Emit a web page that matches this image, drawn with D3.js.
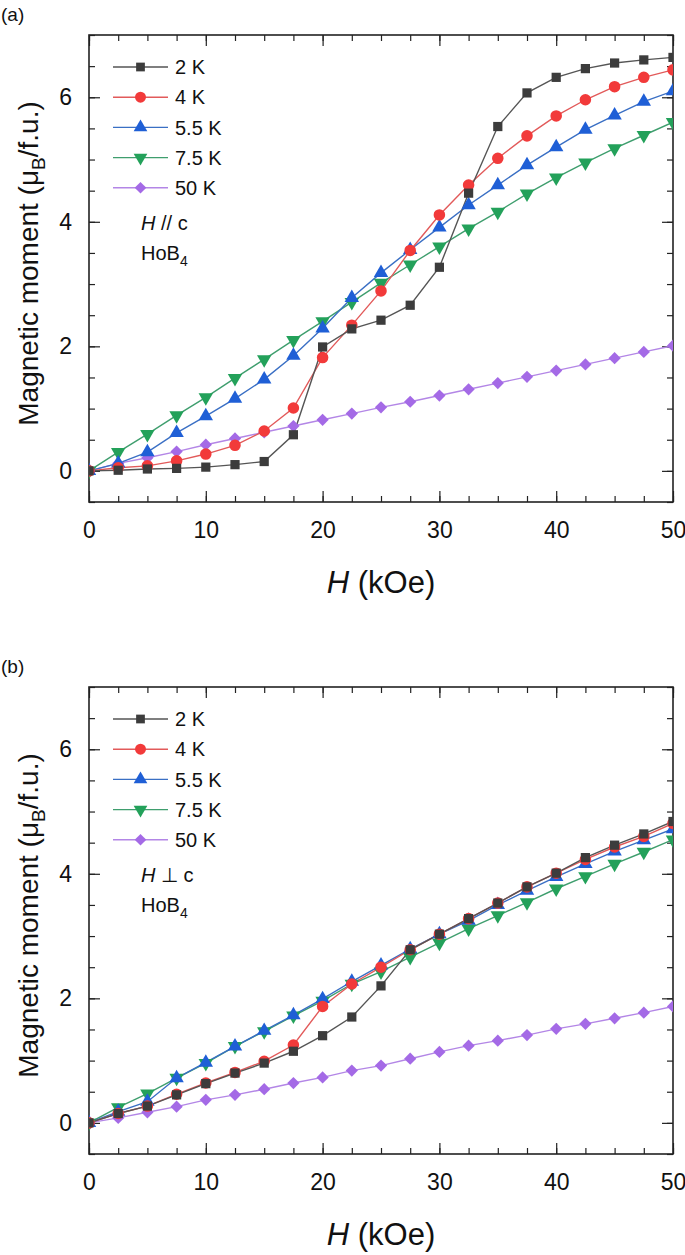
<!DOCTYPE html>
<html><head><meta charset="utf-8">
<script src="https://cdn.jsdelivr.net/npm/d3@7"></script>
<style>body{margin:0;background:#fff}svg{display:block;font-family:Arial,"Liberation Sans",sans-serif}</style>
</head><body><svg id="c" width="685" height="1255"></svg>
<script>
// ---------- data ----------
const fieldH = [0,2.5,5,7.5,10,12.5,15,17.5,20,22.5,25,27.5,30,32.5,35,37.5,40,42.5,45,47.5,50];
const seriesLabels = ["2 K","4 K","5.5 K","7.5 K","50 K"];
const xTicks = [0,10,20,30,40,50];
const yTicks = [0,2,4,6];

// panel (a) H // c
const a2K  = [0,0.01,0.03,0.04,0.06,0.10,0.15,0.58,1.99,2.28,2.42,2.66,3.27,4.46,5.53,6.07,6.32,6.46,6.55,6.60,6.64];
const a4K  = [0,0.05,0.08,0.16,0.27,0.41,0.64,1.01,1.82,2.34,2.89,3.54,4.11,4.59,5.02,5.38,5.70,5.96,6.17,6.32,6.44];
const a55K = [0,0.12,0.30,0.61,0.88,1.16,1.47,1.85,2.29,2.78,3.18,3.55,3.91,4.27,4.59,4.91,5.20,5.48,5.71,5.93,6.10];
const a75K = [0,0.30,0.59,0.89,1.18,1.49,1.79,2.10,2.40,2.71,3.02,3.31,3.60,3.89,4.16,4.45,4.71,4.95,5.18,5.39,5.60];
const a50K = [0,0.12,0.21,0.31,0.42,0.52,0.62,0.72,0.82,0.92,1.02,1.11,1.21,1.31,1.41,1.51,1.61,1.71,1.81,1.91,2.01];

// panel (b) H ⊥ c
const b2K  = [0,0.15,0.27,0.45,0.63,0.80,0.96,1.15,1.40,1.70,2.20,2.78,3.03,3.28,3.53,3.79,4.01,4.26,4.46,4.64,4.84];
const b4K  = [0,0.15,0.27,0.46,0.64,0.81,0.99,1.25,1.87,2.23,2.50,2.78,3.03,3.28,3.53,3.79,4.01,4.23,4.43,4.60,4.81];
const b55K = [0,0.18,0.34,0.72,0.97,1.23,1.48,1.73,1.99,2.27,2.53,2.79,3.03,3.25,3.50,3.73,3.95,4.16,4.36,4.54,4.72];
const b75K = [0,0.25,0.47,0.72,0.96,1.23,1.47,1.72,1.96,2.23,2.43,2.66,2.89,3.12,3.33,3.54,3.76,3.96,4.16,4.35,4.55];
const b50K = [0,0.08,0.17,0.26,0.37,0.45,0.54,0.64,0.73,0.84,0.92,1.03,1.14,1.24,1.32,1.41,1.51,1.59,1.68,1.77,1.87];

// ---------- styles ----------
const fills  = ["#3c3c3c","#f23a3a","#1f5fd6","#23a15a","#a46ae6"];
const lines  = ["#555555","#e25a5a","#3a6fc4","#3f9e6e","#b386e6"];
const shapes = [
  {t:d3.symbolSquare,  s:85, r:0},
  {t:d3.symbolCircle,  s:105, r:0},
  {t:d3.symbolTriangle,s:90, r:0},
  {t:d3.symbolTriangle,s:90, r:180},
  {t:d3.symbolSquare,  s:75, r:45}
];

const svg = d3.select("#c");

function panel(cfg){
  const L=89,R=673,T=cfg.top,B=cfg.top+467;
  const x=d3.scaleLinear().domain([0,50]).range([L,R]);
  const y=d3.scaleLinear().domain([-0.5,7]).range([B,T]);
  const g=svg.append("g");
  const minorX=d3.range(0,50.01,2.5), minorY=d3.range(-0.5,7.01,0.5);
  const axStyle=sel=>{sel.select(".domain").remove();sel.selectAll("line").attr("stroke","#222").attr("stroke-width",1.2);};
  const lab=s=>s.selectAll("text").attr("font-size",23).attr("fill","#111").attr("font-family","Arial");
  // bottom
  g.append("g").attr("transform",`translate(0,${B})`).call(d3.axisBottom(x).tickValues(minorX).tickSize(-6).tickFormat("")).call(axStyle);
  g.append("g").attr("transform",`translate(0,${B})`).call(d3.axisBottom(x).tickValues(xTicks).tickSize(-11).tickPadding(20).tickFormat(d3.format("d")))
    .call(axStyle).call(lab);
  // top
  g.append("g").attr("transform",`translate(0,${T})`).call(d3.axisTop(x).tickValues(minorX).tickSize(-6).tickFormat("")).call(axStyle);
  g.append("g").attr("transform",`translate(0,${T})`).call(d3.axisTop(x).tickValues(xTicks).tickSize(-11).tickFormat("")).call(axStyle);
  // left
  g.append("g").attr("transform",`translate(${L},0)`).call(d3.axisLeft(y).tickValues(minorY).tickSize(-6).tickFormat("")).call(axStyle);
  g.append("g").attr("transform",`translate(${L},0)`).call(d3.axisLeft(y).tickValues(yTicks).tickSize(-11).tickPadding(17).tickFormat(d3.format("d")))
    .call(axStyle).call(lab);
  // right
  g.append("g").attr("transform",`translate(${R},0)`).call(d3.axisRight(y).tickValues(minorY).tickSize(-6).tickFormat("")).call(axStyle);
  g.append("g").attr("transform",`translate(${R},0)`).call(d3.axisRight(y).tickValues(yTicks).tickSize(-11).tickFormat("")).call(axStyle);
  // frame
  g.append("rect").attr("x",L).attr("y",T).attr("width",R-L).attr("height",B-T).attr("fill","none").attr("stroke","#222").attr("stroke-width",1.6);

  // data
  const clipId="clip"+cfg.key;
  svg.append("clipPath").attr("id",clipId).append("rect").attr("x",L).attr("y",T).attr("width",R-L).attr("height",B-T);
  const dg=g.append("g").attr("clip-path",`url(#${clipId})`);
  const line=d3.line().x((d,i)=>x(fieldH[i])).y(d=>y(d));
  const order=[4,3,2,1,0];
  order.forEach(k=>{
    dg.append("path").attr("d",line(cfg.series[k])).attr("fill","none").attr("stroke",lines[k]).attr("stroke-width",1.4);
  });
  order.forEach(k=>{
    const sym=d3.symbol().type(shapes[k].t).size(shapes[k].s);
    dg.selectAll(null).data(cfg.series[k]).join("path").attr("d",sym)
      .attr("transform",(d,i)=>`translate(${x(fieldH[i])},${y(d)}) rotate(${shapes[k].r})`)
      .attr("fill",fills[k]);
  });

  // legend
  const lx0=113,lx1=168,ly0=T+32,dy=30.2;
  seriesLabels.forEach((lab,k)=>{
    const yy=ly0+k*dy;
    g.append("line").attr("x1",lx0).attr("x2",lx1).attr("y1",yy).attr("y2",yy).attr("stroke",lines[k]).attr("stroke-width",1.4);
    const sym=d3.symbol().type(shapes[k].t).size(shapes[k].s*0.9);
    g.append("path").attr("d",sym).attr("transform",`translate(${(lx0+lx1)/2},${yy}) rotate(${shapes[k].r})`).attr("fill",fills[k]);
    g.append("text").attr("x",175).attr("y",yy).attr("dy","0.36em").attr("font-size",20).attr("fill","#111").text(lab);
  });
  const t1=g.append("text").attr("x",141).attr("y",ly0+5*dy+5).attr("dy","0.36em").attr("font-size",20).attr("fill","#111");
  t1.append("tspan").attr("font-style","italic").text("H");
  t1.append("tspan").text(cfg.orient);
  const t2=g.append("text").attr("x",141).attr("y",ly0+6*dy+5).attr("dy","0.36em").attr("font-size",20).attr("fill","#111");
  t2.append("tspan").text("HoB");
  t2.append("tspan").attr("font-size",14).attr("dy","6").text("4");

  // axis titles
  const xt=g.append("text").attr("x",(L+R)/2).attr("y",B+91).attr("text-anchor","middle").attr("font-size",31).attr("fill","#111");
  xt.append("tspan").attr("font-style","italic").text("H");
  xt.append("tspan").text(" (kOe)");
  const yt=g.append("text").attr("transform",`translate(38,${(T+B)/2-5}) rotate(-90)`).attr("text-anchor","middle").attr("font-size",28).attr("fill","#111");
  yt.append("tspan").text("Magnetic moment (μ");
  yt.append("tspan").attr("font-size",19).attr("dy",7).text("B");
  yt.append("tspan").attr("dy",-7).text("/f.u.)");
  // panel label
  svg.append("text").attr("x",1).attr("y",cfg.top-14).attr("font-size",19).attr("fill","#111").text(cfg.name);
}

panel({name:"(a)",key:"a",top:35,orient:" // c",series:[a2K,a4K,a55K,a75K,a50K]});
panel({name:"(b)",key:"b",top:687,orient:" ⊥ c",series:[b2K,b4K,b55K,b75K,b50K]});
</script></body></html>
